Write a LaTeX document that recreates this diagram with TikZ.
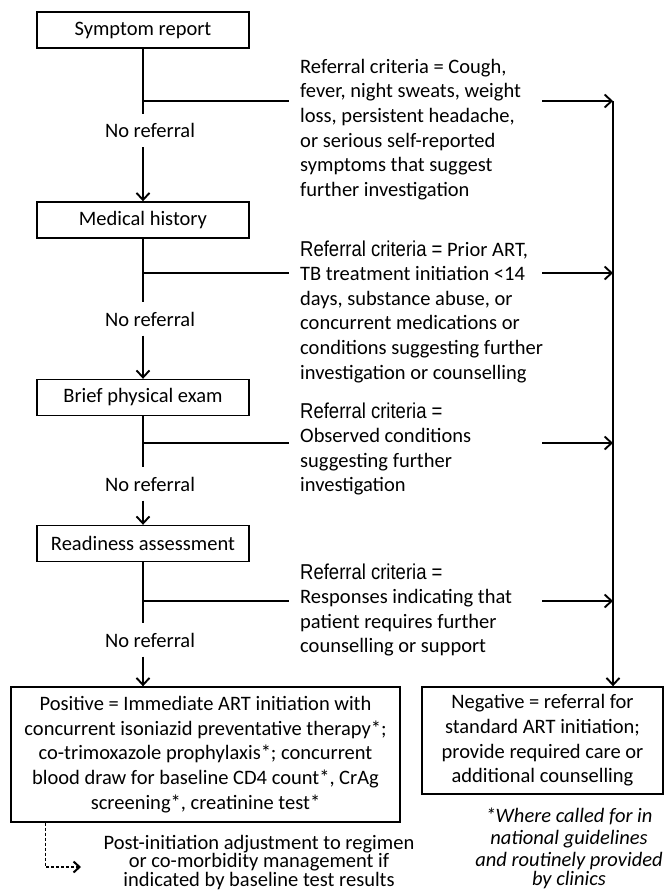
\documentclass[tikz,border=0pt]{standalone}
\usepackage{fontspec}
\setmainfont{Carlito}
\newfontfamily\arialn[FakeStretch=0.86]{Liberation Sans}
\usetikzlibrary{arrows.meta}
\newcommand{\refcrit}{{\arialn\fontsize{21.5}{24.6}\selectfont Referral criteria =}}
\begin{document}
\begin{tikzpicture}[x=1pt,y=-1pt,
  every node/.style={font=\fontsize{20.5}{24.6}\selectfont, inner sep=0pt},
  stepbox/.style={draw, line width=1.4pt, minimum width=212pt, minimum height=36pt},
  outbox/.style={draw, line width=1.4pt, align=center},
  crit/.style={anchor=west, align=left},
  noref/.style={minimum height=33pt},
  conn/.style={line width=1.2pt},
  arr/.style={conn, -{Straight Barb[length=7pt,width=13pt,line width=1.9pt]}},
  dasharr/.style={line width=1.1pt, dash pattern=on 3pt off 2pt, -{Straight Barb[length=6pt,width=11pt,line width=2pt]}},
  note/.style={align=center, font=\fontsize{20.5}{22}\selectfont\itshape}
]
\fill[white] (0,0) rectangle (667,892);
\useasboundingbox (0,0) rectangle (667,892);

% main steps
\node[stepbox] (b1) at (143,30) {Symptom report};
\node[stepbox] (b2) at (143,220) {Medical history};
\node[stepbox] (b3) at (143,397.5) {Brief physical exam};
\node[stepbox] (b4) at (143,543.5) {Readiness assessment};

% outcome boxes
\node[outbox, minimum width=389pt, minimum height=135pt] (pos) at (205.5,754.5)
  {Positive = Immediate ART initiation with\\
   concurrent isoniazid preventative therapy*;\\
   co-trimoxazole prophylaxis*; concurrent\\
   blood draw for baseline CD4 count*, CrAg\\
   screening*, creatinine test*};
\node[outbox, minimum width=241pt, minimum height=107pt] (neg) at (542.5,740.5)
  {Negative = referral for\\
   standard ART initiation;\\
   provide required care or\\
   additional counselling};

% no referral labels
\node[noref] (n1) at (150,130.5) {No referral};
\node[noref] (n2) at (150,319) {No referral};
\node[noref] (n3) at (150,484) {No referral};
\node[noref] (n4) at (150,640) {No referral};

% criteria texts
\node[crit] (c1) at (300,129.5) {Referral criteria = Cough,\\
  fever, night sweats, weight\\
  loss, persistent headache,\\
  or serious self-reported\\
  symptoms that suggest\\
  further investigation};
\node[crit] (c2) at (300,311.5) {\refcrit{} Prior ART,\\
  TB treatment initiation <14\\
  days, substance abuse, or\\
  concurrent medications or\\
  conditions suggesting further\\
  investigation or counselling};
\node[crit] (c3) at (300,449) {\refcrit\\
  Observed conditions\\
  suggesting further\\
  investigation};
\node[crit] (c4) at (300,610) {\refcrit\\
  Responses indicating that\\
  patient requires further\\
  counselling or support};

% post-initiation and footnote
\node[align=center, font=\fontsize{20.5}{18.6}\selectfont] (post) at (259,862.5)
  {Post-initiation adjustment to regimen\\
   or co-morbidity management if\\
   indicated by baseline test results};
\node[note] (fn) at (569,848)
  {*Where called for in\\
   national guidelines\\
   and routinely provided\\[-3pt]
   by clinics};

% branch coordinates
\coordinate (j1) at (143,101);  \coordinate (e1) at (289,101);
\coordinate (a1) at (542,101);  \coordinate (t1) at (613,101);
\coordinate (j2) at (143,273);  \coordinate (e2) at (289,273);
\coordinate (a2) at (542,273);  \coordinate (t2) at (613,273);
\coordinate (j3) at (143,443);  \coordinate (e3) at (289,443);
\coordinate (a3) at (542,443);  \coordinate (t3) at (613,443);
\coordinate (j4) at (143,601);  \coordinate (e4) at (289,601);
\coordinate (a4) at (542,601);  \coordinate (t4) at (613,601);

% main flow
\draw[conn] (b1.south) -- (b1.south |- n1.north);
\draw[arr] (b1.south |- n1.south) -- (b2.north);
\draw[conn] (b2.south) -- (b2.south |- n2.north);
\draw[arr] (b2.south |- n2.south) -- (b3.north);
\draw[conn] (b3.south) -- (b3.south |- n3.north);
\draw[arr] (b3.south |- n3.south) -- (b4.north);
\draw[conn] (b4.south) -- (b4.south |- n4.north);
\draw[arr] (b4.south |- n4.south) -- (b4.south |- pos.north);

% referral branches
\draw[conn] (j1) -- (e1); \draw[arr] (a1) -- (t1);
\draw[conn] (j2) -- (e2); \draw[arr] (a2) -- (t2);
\draw[conn] (j3) -- (e3); \draw[arr] (a3) -- (t3);
\draw[conn] (j4) -- (e4); \draw[arr] (a4) -- (t4);
\draw[arr] (t1) -- (t1 |- neg.north);

% dashed follow-up
\coordinate (d0) at ([xshift=35pt]pos.south west);
\coordinate (d1) at (81,867);
\draw[dasharr] (d0) |- (d1);
\end{tikzpicture}
\end{document}
